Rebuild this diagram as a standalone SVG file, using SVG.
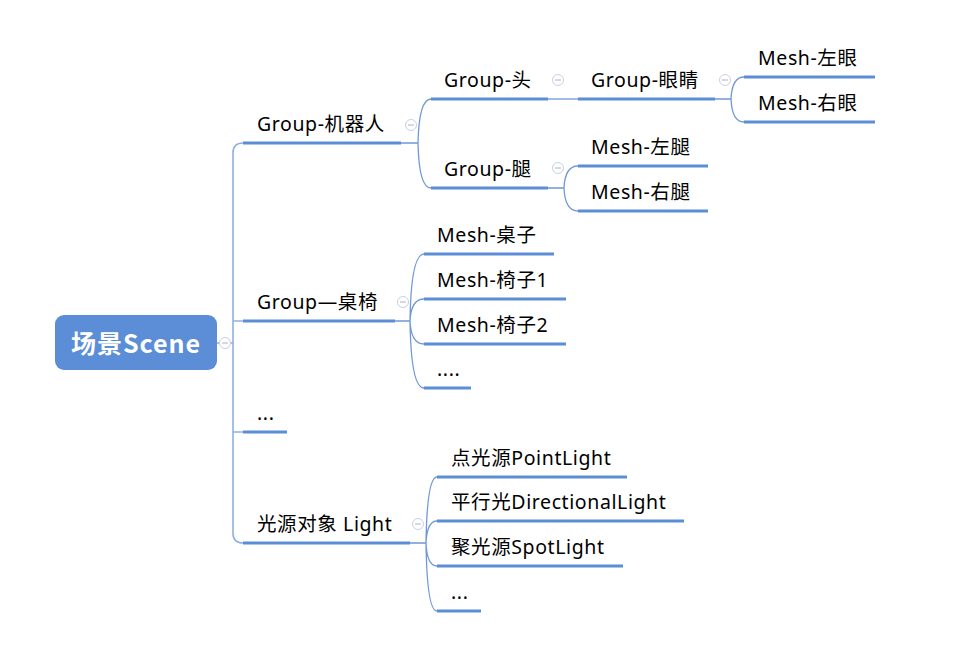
<svg xmlns="http://www.w3.org/2000/svg" width="975" height="666" viewBox="0 0 975 666">
<style>
.t{font-family:"Noto Sans","Noto Sans CJK SC",sans-serif;font-size:19.5px;letter-spacing:0.6px;fill:#000}
.u{stroke:#5b8ed6;stroke-width:3;fill:none}
.c{stroke:#6f98d6;stroke-width:1.3;fill:none}
.tr{stroke:#8fb0e2;stroke-width:1.6;fill:none}
.col circle{fill:#fff;stroke:#c9cfe3;stroke-width:1}
.col line{stroke:#aab2c8;stroke-width:1}
</style>
<rect width="975" height="666" fill="#fff"/>
<g id="connectors">
<path class="tr" d="M217,343 H233 M243,143 Q233,143 233,153 V533 Q233,543 243,543 M233,321 H243 M233,432 H243"/>
<path class="c" d="M401,143 H418 M418,143 Q419,99 431,99 M418,143 Q419,188 431,188"/>
<path class="c" d="M548,99 H578"/>
<path class="c" d="M715,99 H731 M731,99 Q732,77 744,77 M731,99 Q732,122 744,122"/>
<path class="c" d="M548,188 H564 M564,188 Q565,166 578,166 M564,188 Q565,211 578,211"/>
<path class="c" d="M395,321 H410 M410,321 Q411,254 424,254 M410,321 Q411,299 424,299 M410,321 Q411,344 424,344 M410,321 Q411,388 424,388"/>
<path class="c" d="M410,543 H426 M426,543 Q427,477 437,477 M426,543 Q427,521 437,521 M426,543 Q427,566 437,566 M426,543 Q427,611 437,611"/>
</g>
<g id="root">
<rect x="55" y="315" width="162" height="55" rx="9" fill="#5b8ed6"/>
<text x="136" y="353" text-anchor="middle" font-family="Noto Sans CJK SC, Noto Sans, sans-serif" font-size="25px" font-weight="bold" letter-spacing="1px" fill="#fff">场景Scene</text>
</g>
<g id="n-robot"><line class="u" x1="243" y1="143" x2="401" y2="143"/><text class="t" x="257" y="131">Group-机器人</text></g>
<g id="n-table"><line class="u" x1="243" y1="321" x2="395" y2="321"/><text class="t" x="257" y="309">Group—桌椅</text></g>
<g id="n-etc1"><line class="u" x1="243" y1="432" x2="287" y2="432"/><text class="t" x="257" y="420">...</text></g>
<g id="n-light"><line class="u" x1="243" y1="543" x2="410" y2="543"/><text class="t" x="257" y="531">光源对象 Light</text></g>
<g id="n-head"><line class="u" x1="431" y1="99" x2="548" y2="99"/><text class="t" x="444" y="87">Group-头</text></g>
<g id="n-leg"><line class="u" x1="431" y1="188" x2="548" y2="188"/><text class="t" x="444" y="176">Group-腿</text></g>
<g id="n-eyes"><line class="u" x1="578" y1="99" x2="715" y2="99"/><text class="t" x="591" y="87">Group-眼睛</text></g>
<g id="n-leye"><line class="u" x1="744" y1="77" x2="875" y2="77"/><text class="t" x="758" y="65">Mesh-左眼</text></g>
<g id="n-reye"><line class="u" x1="744" y1="122" x2="875" y2="122"/><text class="t" x="758" y="110">Mesh-右眼</text></g>
<g id="n-lleg"><line class="u" x1="578" y1="166" x2="708" y2="166"/><text class="t" x="591" y="154">Mesh-左腿</text></g>
<g id="n-rleg"><line class="u" x1="578" y1="211" x2="708" y2="211"/><text class="t" x="591" y="199">Mesh-右腿</text></g>
<g id="n-desk"><line class="u" x1="424" y1="254" x2="554" y2="254"/><text class="t" x="437" y="242">Mesh-桌子</text></g>
<g id="n-chair1"><line class="u" x1="424" y1="299" x2="566" y2="299"/><text class="t" x="437" y="287">Mesh-椅子1</text></g>
<g id="n-chair2"><line class="u" x1="424" y1="344" x2="566" y2="344"/><text class="t" x="437" y="332">Mesh-椅子2</text></g>
<g id="n-etc2"><line class="u" x1="424" y1="388" x2="471" y2="388"/><text class="t" x="437" y="376">....</text></g>
<g id="n-point"><line class="u" x1="437" y1="477" x2="627" y2="477"/><text class="t" x="451" y="465">点光源PointLight</text></g>
<g id="n-dir"><line class="u" x1="437" y1="521" x2="684" y2="521"/><text class="t" x="451" y="509">平行光DirectionalLight</text></g>
<g id="n-spot"><line class="u" x1="437" y1="566" x2="623" y2="566"/><text class="t" x="451" y="554">聚光源SpotLight</text></g>
<g id="n-etc3"><line class="u" x1="437" y1="611" x2="481" y2="611"/><text class="t" x="451" y="599">...</text></g>
<g id="collapse" class="col">
<circle cx="225" cy="343" r="5.5"/><line x1="222" y1="343" x2="228" y2="343"/>
<circle cx="411" cy="125" r="5.5"/><line x1="408" y1="125" x2="414" y2="125"/>
<circle cx="403" cy="302" r="5.5"/><line x1="400" y1="302" x2="406" y2="302"/>
<circle cx="418" cy="524" r="5.5"/><line x1="415" y1="524" x2="421" y2="524"/>
<circle cx="558" cy="80" r="5.5"/><line x1="555" y1="80" x2="561" y2="80"/>
<circle cx="558" cy="168" r="5.5"/><line x1="555" y1="168" x2="561" y2="168"/>
<circle cx="725" cy="80" r="5.5"/><line x1="722" y1="80" x2="728" y2="80"/>
</g>
</svg>
